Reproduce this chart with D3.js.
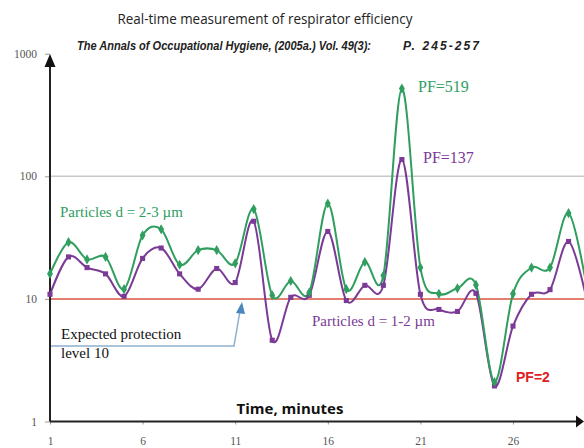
<!DOCTYPE html>
<html><head><meta charset="utf-8">
<script src="https://cdn.jsdelivr.net/npm/d3@7/dist/d3.min.js"></script>
<style>body{margin:0;background:#fff}svg{display:block}</style>
</head><body>
<svg id="chart" width="584" height="448"></svg>
<script>
const minutes = d3.range(1, 31);
const coarse = [16, 29, 21, 22, 12, 33, 37, 19, 25, 25, 19.5, 54, 10.7, 14, 11.3, 60, 12, 20, 15.5, 519, 18, 11, 12.2, 13, 2.1, 11, 18, 18, 50, 12];
const fine = [10.9, 22, 18, 16, 10.5, 21.4, 26, 16, 12, 17.7, 13.6, 43, 4.6, 10.3, 10.7, 35.5, 9.7, 12.9, 12.9, 137, 10.9, 8.2, 7.9, 11.1, 1.95, 6, 10.9, 11.9, 29.4, 9.5];
const xTicks = [1, 6, 11, 16, 21, 26];
const yTicks = [1, 10, 100, 1000];
const expected = 10;

const svg = d3.select("#chart");
const x = d3.scaleLinear().domain([1, 26]).range([50, 513]);
const y = d3.scaleLog().domain([1, 1000]).range([421.5, 53.7]);
const green = "#2f9e5f", purple = "#7a3a96";

// title
svg.append("text").attr("x", 265).attr("y", 24).attr("text-anchor", "middle")
  .attr("font-family", "Open Sans").attr("font-size", 14).attr("fill", "#222")
  .attr("textLength", 295).attr("lengthAdjust", "spacingAndGlyphs")
  .text("Real-time measurement of respirator efficiency");
svg.append("text").attr("x", 77).attr("y", 50)
  .attr("font-family", "Liberation Sans").attr("font-size", 12).attr("font-weight", "bold").attr("font-style", "italic").attr("fill", "#222")
  .attr("textLength", 294).attr("lengthAdjust", "spacingAndGlyphs")
  .text("The Annals of Occupational Hygiene, (2005a.) Vol. 49(3):");
svg.append("text").attr("x", 403).attr("y", 50)
  .attr("font-family", "Liberation Sans").attr("font-size", 12).attr("font-weight", "bold").attr("font-style", "italic").attr("fill", "#222")
  .attr("textLength", 76).attr("lengthAdjust", "spacing")
  .text("P.  245-257");

// grid & reference line
svg.append("line").attr("x1", 50).attr("x2", 584).attr("y1", y(100)).attr("y2", y(100))
  .attr("stroke", "#c8c8c8").attr("stroke-width", 1.5);
svg.append("line").attr("x1", 50).attr("x2", 584).attr("y1", y(expected)).attr("y2", y(expected))
  .attr("stroke", "#d9553f").attr("stroke-width", 1.5);

// axes
const xAxis = svg.append("g").attr("transform", `translate(0,${y(1)})`)
  .call(d3.axisBottom(x).tickValues(xTicks).tickSize(3).tickPadding(12).tickFormat(d3.format("d")));
const yAxis = svg.append("g").attr("transform", `translate(50,0)`)
  .call(d3.axisLeft(y).tickValues(yTicks).tickSize(5).tickPadding(8).tickFormat(d3.format("d")));
[xAxis, yAxis].forEach(a => {
  a.select(".domain").remove();
  a.selectAll(".tick line").attr("stroke", "#999");
  a.selectAll(".tick text").attr("font-family", "Liberation Serif").attr("font-size", 11.5).attr("fill", "#555");
});
svg.append("line").attr("x1", 50).attr("x2", 578).attr("y1", y(1)).attr("y2", y(1)).attr("stroke", "#222").attr("stroke-width", 2);
svg.append("path").attr("d", `M584,${y(1)} L576,${y(1)-6} L576,${y(1)+6} Z`).attr("fill", "#111");
svg.append("line").attr("x1", 50).attr("x2", 50).attr("y1", y(1)).attr("y2", 62).attr("stroke", "#222").attr("stroke-width", 2);
svg.append("path").attr("d", `M50,54 L44.5,67 L55.5,67 Z`).attr("fill", "#111");

// series
const line = d3.line().x((d, i) => x(minutes[i])).y(d => y(d)).curve(d3.curveCatmullRom.alpha(0));
svg.append("path").datum(fine).attr("d", line).attr("fill", "none").attr("stroke", purple).attr("stroke-width", 2);
svg.append("path").datum(coarse).attr("d", line).attr("fill", "none").attr("stroke", green).attr("stroke-width", 2);
svg.append("g").selectAll("path").data(fine).join("path")
  .attr("transform", (d, i) => `translate(${x(minutes[i])},${y(d)})`)
  .attr("d", d3.symbol(d3.symbolSquare, 26)).attr("fill", purple);
svg.append("g").selectAll("path").data(coarse).join("path")
  .attr("transform", (d, i) => `translate(${x(minutes[i])},${y(d)})`)
  .attr("d", d3.symbol(d3.symbolDiamond, 30)).attr("fill", green);

// labels
const serif = "Liberation Serif";
svg.append("text").attr("x", 60).attr("y", 217).attr("font-family", serif).attr("font-size", 15).attr("fill", green).text("Particles d = 2-3 µm");
svg.append("text").attr("x", 312).attr("y", 326).attr("font-family", serif).attr("font-size", 15).attr("fill", purple).text("Particles d = 1-2 µm");
svg.append("text").attr("x", 418).attr("y", 92).attr("font-family", serif).attr("font-size", 16).attr("fill", green).text("PF=" + coarse[19]);
svg.append("text").attr("x", 423).attr("y", 163).attr("font-family", serif).attr("font-size", 16).attr("fill", purple).text("PF=" + fine[19]);
svg.append("text").attr("x", 516).attr("y", 382).attr("font-family", "Liberation Sans").attr("font-size", 14).attr("font-weight", "bold").attr("fill", "#e0201c").text("PF=2");
svg.append("text").attr("x", 290).attr("y", 414).attr("text-anchor", "middle").attr("font-family", "Open Sans").attr("font-size", 15).attr("font-weight", "bold").attr("fill", "#111").text("Time, minutes");

// callout
svg.append("path").attr("d", `M51,346 L234,346 L240,${y(expected)+12}`).attr("fill", "none").attr("stroke", "#8fb0cc").attr("stroke-width", 1.5);
svg.append("path").attr("d", `M242,${y(expected)+3} L236,${y(expected)+14} L245,${y(expected)+15} Z`).attr("fill", "#4a86bf");
svg.append("text").attr("x", 61).attr("y", 339).attr("font-family", serif).attr("font-size", 15).attr("fill", "#111").text("Expected protection");
svg.append("text").attr("x", 61).attr("y", 358).attr("font-family", serif).attr("font-size", 15).attr("fill", "#111").text("level 10");
</script>
</body></html>
